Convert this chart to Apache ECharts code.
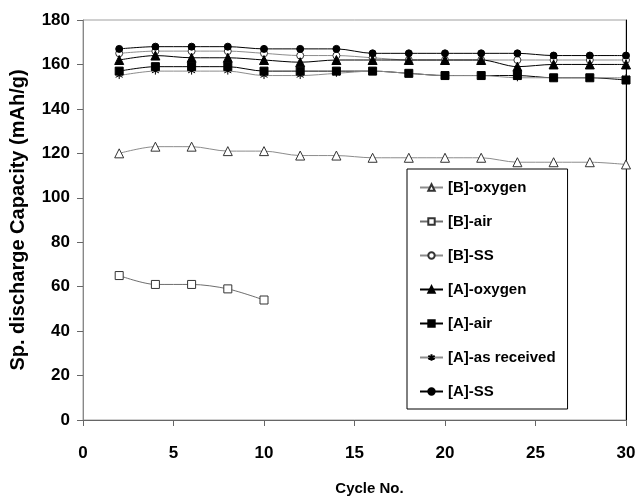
<!DOCTYPE html>
<html>
<head>
<meta charset="utf-8">
<script src="https://cdn.jsdelivr.net/npm/echarts@6/dist/echarts.min.js"></script>
<style>
  html, body { margin: 0; padding: 0; background: #fff; }
  #chart { width: 637px; height: 502px; }
</style>
</head>
<body>
<div id="chart"></div>
<script>
// cycle numbers
const cycles = [2, 4, 6, 8, 10, 12, 14, 16, 18, 20, 22, 24, 26, 28, 30];
const cyclesAir = [2, 4, 6, 8, 10];

// capacities (mAh/g)
const bOxygen = [120, 123, 123, 121, 121, 119, 119, 118, 118, 118, 118, 116, 116, 116, 115];
const bAir = [65, 61, 61, 59, 54];
const bSS = [165, 166, 166, 166, 165, 164, 164, 163, 162, 162, 162, 162, 162, 162, 162];
const aOxygen = [162, 164, 163, 163, 162, 161, 162, 162, 162, 162, 162, 159, 160, 160, 160];
const aAir = [157, 159, 159, 159, 157, 157, 157, 157, 156, 155, 155, 155, 154, 154, 153];
const aAsReceived = [155, 157, 157, 157, 155, 155, 156, 157, 156, 155, 155, 154, 154, 154, 154];
const aSS = [167, 168, 168, 168, 167, 167, 167, 165, 165, 165, 165, 165, 164, 164, 164];

const FONT = "'Liberation Sans', Arial, sans-serif";
const STAR = 'path://M5,0L5,10M0,2.5L10,7.5M0,7.5L10,2.5';

const pairs = (xs, ys) => xs.map((x, i) => [x, ys[i]]);

function line(name, xs, ys, symbol, size, lineColor, fill, border) {
  return {
    name,
    type: 'line',
    smooth: 0.3,
    symbol,
    symbolSize: size,
    lineStyle: { color: lineColor, width: 1 },
    itemStyle: { color: fill, borderColor: border, borderWidth: 1 },
    emphasis: { disabled: true },
    data: pairs(xs, ys),
  };
}

const chart = echarts.init(document.getElementById('chart'), null, { renderer: 'canvas' });

chart.setOption({
  backgroundColor: '#fff',
  animation: false,
  textStyle: { fontFamily: FONT },
  grid: {
    left: 83,
    right: 11,
    top: 20,
    bottom: 82,
    outerBoundsMode: 'none',
    show: true,
    borderColor: '#a0a0a0',
    borderWidth: 1,
  },
  legend: {
    orient: 'vertical',
    left: 407,
    top: 169,
    padding: [11, 12, 10, 12],
    itemWidth: 23,
    itemHeight: 8,
    itemGap: 19,
    borderColor: '#000',
    borderWidth: 1,
    backgroundColor: '#fff',
    textStyle: { fontFamily: FONT, fontSize: 15, fontWeight: 'bold', color: '#000' },
    data: ['[B]-oxygen', '[B]-air', '[B]-SS', '[A]-oxygen', '[A]-air', '[A]-as received', '[A]-SS'],
  },
  xAxis: {
    type: 'value',
    min: 0,
    max: 30,
    interval: 5,
    name: 'Cycle No.',
    nameLocation: 'middle',
    nameGap: 61,
    nameTextStyle: { fontFamily: FONT, fontSize: 15, fontWeight: 'bold', color: '#000', padding: [0, 0, 0, 30] },
    axisLine: { lineStyle: { color: '#666', width: 1 } },
    axisTick: { inside: false, length: 6, lineStyle: { color: '#666' } },
    axisLabel: { margin: 25, fontFamily: FONT, fontSize: 17, fontWeight: 'bold', color: '#000' },
    splitLine: { show: false },
  },
  yAxis: [
    {
      type: 'value',
      min: 0,
      max: 180,
      interval: 20,
      name: 'Sp. discharge Capacity (mAh/g)',
      nameLocation: 'middle',
      nameGap: 55,
      nameTextStyle: { fontFamily: FONT, fontSize: 20, fontWeight: 'bold', color: '#000' },
      axisLine: { show: true, lineStyle: { color: '#888', width: 1 } },
      axisTick: { show: true, inside: false, length: 6, lineStyle: { color: '#666' } },
      axisLabel: { margin: 13, fontFamily: FONT, fontSize: 17, fontWeight: 'bold', color: '#000' },
      splitLine: { show: false },
    },
    {
      // black right frame edge
      type: 'value',
      position: 'right',
      min: 0,
      max: 180,
      axisLine: { show: true, lineStyle: { color: '#000', width: 1 } },
      axisTick: { show: false },
      axisLabel: { show: false },
      splitLine: { show: false },
    },
  ],
  series: [
    line('[B]-oxygen', cycles, bOxygen, 'triangle', 9, '#8c8c8c', '#fff', '#333'),
    line('[B]-air', cyclesAir, bAir, 'rect', 8, '#6e6e6e', '#fff', '#333'),
    line('[B]-SS', cycles, bSS, 'circle', 7, '#8c8c8c', '#fff', '#333'),
    line('[A]-oxygen', cycles, aOxygen, 'triangle', 9, '#000', '#000', '#000'),
    line('[A]-air', cycles, aAir, 'rect', 8, '#000', '#000', '#000'),
    line('[A]-as received', cycles, aAsReceived, STAR, 7, '#8c8c8c', 'rgba(0,0,0,0)', '#000'),
    line('[A]-SS', cycles, aSS, 'circle', 7, '#000', '#000', '#000'),
  ],
});
</script>
</body>
</html>
